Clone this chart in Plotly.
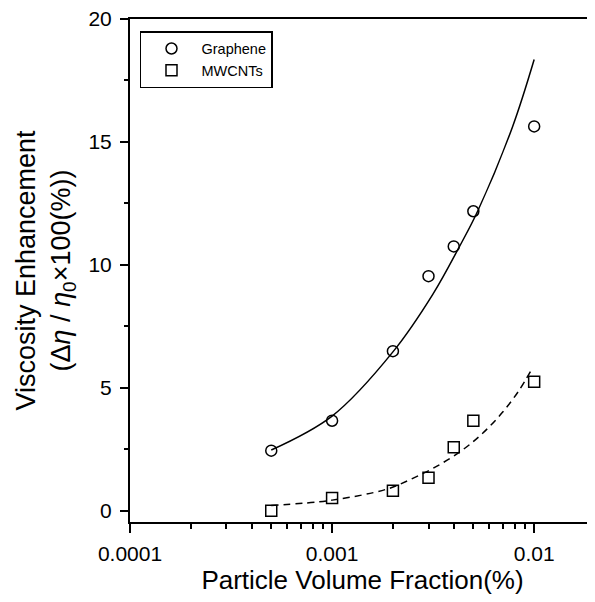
import plotly.graph_objects as go

# Measured data
fraction = [0.0005, 0.001, 0.002, 0.003, 0.004, 0.005, 0.01]
graphene = [2.44, 3.66, 6.49, 9.54, 10.75, 12.18, 15.63]
mwcnts = [0.0, 0.52, 0.81, 1.34, 2.58, 3.66, 5.24]

# Fit curves
graphene_fit_x = [0.0005, 0.001, 0.002, 0.00315, 0.00426, 0.00525, 0.00781, 0.01]
graphene_fit_y = [2.47, 3.85, 6.46, 8.8, 10.73, 12.18, 15.61, 18.35]
mwcnt_fit_x = [0.0005, 0.001, 0.00187, 0.00241, 0.00327, 0.00442, 0.00556, 0.00697, 0.00843, 0.00963]
mwcnt_fit_y = [0.21, 0.43, 0.88, 1.25, 1.79, 2.47, 3.15, 4.0, 4.9, 5.69]

x_tickvals = [0.0001, 0.001, 0.01]
x_ticktext = ["0.0001", "0.001", "0.01"]
y_tickvals = [0, 5, 10, 15, 20]

FONT = "Liberation Sans, Arial, sans-serif"

fig = go.Figure()
fig.add_trace(go.Scatter(x=graphene_fit_x, y=graphene_fit_y, mode="lines",
                         line=dict(color="black", width=1.5, shape="spline"),
                         showlegend=False, hoverinfo="skip"))
fig.add_trace(go.Scatter(x=mwcnt_fit_x, y=mwcnt_fit_y, mode="lines",
                         line=dict(color="black", width=1.5, shape="spline", dash="7px,5px"),
                         showlegend=False, hoverinfo="skip"))
fig.add_trace(go.Scatter(x=fraction, y=graphene, mode="markers", name="Graphene",
                         marker=dict(symbol="circle-open", size=11, color="black",
                                     line=dict(width=1.5, color="black"))))
fig.add_trace(go.Scatter(x=fraction, y=mwcnts, mode="markers", name="MWCNTs",
                         marker=dict(symbol="square-open", size=11, color="black",
                                     line=dict(width=1.5, color="black"))))

# page body has an 8px margin, so the figure is sized to fit the 595x602 window
fig.update_layout(
    width=587, height=594,
    margin=dict(l=122, r=0, t=11, b=80),
    paper_bgcolor="white", plot_bgcolor="white",
    font=dict(family=FONT, color="black"),
    legend=dict(x=0.0215, y=0.976, xanchor="left", yanchor="top",
                bordercolor="black", borderwidth=1.5, bgcolor="white",
                font=dict(size=14.5, family=FONT), itemwidth=50, tracegroupgap=0),
    showlegend=True,
)
fig.update_xaxes(
    type="log", range=[-4, -1.699],
    tickvals=x_tickvals, ticktext=x_ticktext,
    ticks="outside", ticklen=9, tickwidth=1.5, tickcolor="black",
    minor=dict(ticks="outside", ticklen=5, tickwidth=1.5, tickcolor="black", dtick="D1"),
    showline=True, linecolor="black", linewidth=2, mirror=True,
    showgrid=False, zeroline=False, automargin=False,
    tickfont=dict(size=21, family=FONT),
    ticklabelstandoff=3, ticklabeloverflow="allow",
    title=dict(text="Particle Volume Fraction(%)", font=dict(size=26, family=FONT), standoff=6),
)
fig.update_yaxes(
    range=[-0.46, 20],
    tickvals=y_tickvals,
    ticks="outside", ticklen=8, tickwidth=1.5, tickcolor="black",
    minor=dict(ticks="outside", ticklen=4, tickwidth=1.5, tickcolor="black", dtick=2.5),
    showline=True, linecolor="black", linewidth=2,
    showgrid=False, zeroline=False, automargin=False,
    tickfont=dict(size=21, family=FONT),
    ticklabelstandoff=4, ticklabeloverflow="allow",
    title=dict(text="Viscosity Enhancement<br>(Δ<i>η</i> / <i>η</i><sub>0</sub>×100(%))",
               font=dict(size=27, family=FONT), standoff=10),
)

fig.write_html("out.html")
